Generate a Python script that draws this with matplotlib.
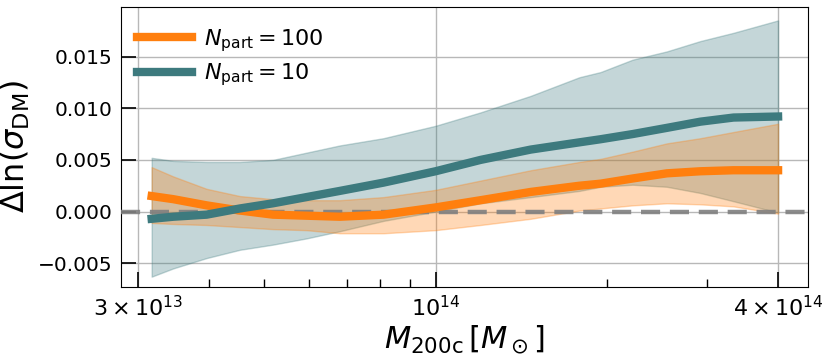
import numpy as np
import matplotlib
matplotlib.use("Agg")
import matplotlib.pyplot as plt

# Mass grid (M_sun)
mass = [3.17e13, 3.46e13, 3.96e13, 4.53e13, 5.18e13, 5.93e13, 6.79e13, 8.1e13,
        1.0e14, 1.20e14, 1.47e14, 1.79e14, 1.95e14, 2.22e14, 2.55e14, 2.92e14,
        3.34e14, 4.0e14]

# N_part = 100 (orange)
med_100 = [0.0015, 0.0012, 0.0006, 0.0001, -0.0003, -0.0004, -0.0005, -0.0003,
           0.0004, 0.0011, 0.0019, 0.0025, 0.0027, 0.0032, 0.0037, 0.0039,
           0.0040, 0.0040]
lo_100 = [-0.0011, -0.0012, -0.0013, -0.0015, -0.0017, -0.0018, -0.0021, -0.0021,
          -0.0018, -0.0013, -0.0007, 0.0001, 0.0003, 0.0006, 0.0008, 0.0007,
          0.0005, -0.0002]
hi_100 = [0.0043, 0.0034, 0.0022, 0.0015, 0.0012, 0.0011, 0.0011, 0.0014,
          0.0021, 0.0030, 0.0040, 0.0048, 0.0051, 0.0058, 0.0066, 0.0071,
          0.0077, 0.0085]

# N_part = 10 (teal)
med_10 = [-0.0007, -0.0005, -0.0003, 0.0003, 0.0008, 0.0014, 0.0020, 0.0028,
          0.0039, 0.0050, 0.0060, 0.0067, 0.0070, 0.0075, 0.0081, 0.0087,
          0.0091, 0.0092]
lo_10 = [-0.0063, -0.0055, -0.0045, -0.0037, -0.0032, -0.0026, -0.0019, -0.0009,
         0.0000, 0.0008, 0.0014, 0.0020, 0.0024, 0.0026, 0.0024, 0.0018,
         0.0010, -0.0001]
hi_10 = [0.0052, 0.0049, 0.0048, 0.0048, 0.0050, 0.0057, 0.0064, 0.0071,
         0.0083, 0.0096, 0.0112, 0.0130, 0.0135, 0.0147, 0.0155, 0.0165,
         0.0173, 0.0185]

labels = [r"$N_{\rm part} = 100$", r"$N_{\rm part} = 10$"]
xticks = [3e13, 1e14, 4e14]
xticklabels = [r"$3\times10^{13}$", r"$10^{14}$", r"$4\times10^{14}$"]
yticks = [-0.005, 0.0, 0.005, 0.010, 0.015]

c_or = "#ff7f0e"
c_te = "#3d7a7e"

fig = plt.figure(figsize=(8.31, 3.6), dpi=100)
ax = fig.add_axes([0.1456, 0.2028, 0.8264, 0.7778])

ax.fill_between(mass, lo_10, hi_10, color=c_te, alpha=0.3, zorder=2)
ax.fill_between(mass, lo_100, hi_100, color=c_or, alpha=0.3, zorder=2)
ax.axhline(0, color="gray", ls=(0, (4.3, 2.2)), lw=3.2, alpha=0.9, zorder=3)
ax.plot(mass, med_100, color=c_or, lw=6, label=labels[0], zorder=4)
ax.plot(mass, med_10, color=c_te, lw=6, label=labels[1], zorder=4)

ax.set_xscale("log")
ax.set_xlim(2.8e13, 4.51e14)
ax.set_ylim(-0.0073, 0.0198)
ax.set_xticks(xticks)
ax.set_xticklabels(xticklabels)
ax.set_yticks(yticks)
ax.grid(True, which="major", color="#b8b8b8", lw=1)
ax.set_axisbelow(True)
ax.tick_params(which="major", direction="in", length=11, width=1.2, pad=6)
ax.tick_params(axis="x", which="major", labelsize=16)
ax.tick_params(axis="y", which="major", labelsize=14.5)
ax.tick_params(which="minor", direction="in", length=6, width=1)
ax.tick_params(axis="y", which="minor", left=False)

ax.set_xlabel(r"$M_{\rm 200c}\,[M_\odot]$", fontsize=22, labelpad=2)
ax.set_ylabel(r"$\Delta \ln(\sigma_{\rm DM})$", fontsize=23, labelpad=4)

ax.legend(loc="upper left", bbox_to_anchor=(0.011, 0.96), frameon=False,
          fontsize=16, handlelength=2.45, handletextpad=0.55,
          borderaxespad=0, labelspacing=0.35)

fig.savefig("out.png", dpi=100)
